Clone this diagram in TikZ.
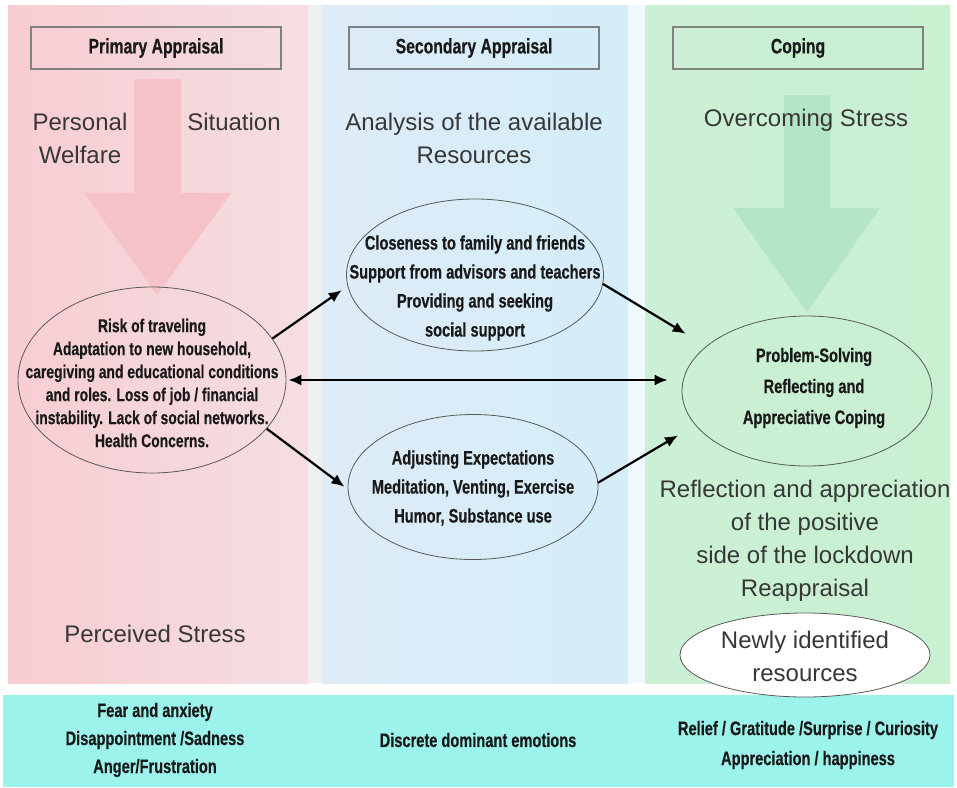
\documentclass[tikz,border=0pt]{standalone}
\usepackage{fontspec}
\setmainfont{Liberation Sans}
\newfontfamily\condfont[FakeStretch=0.75, FakeBold=0.4]{Liberation Sans Bold}
\usetikzlibrary{shapes.geometric, arrows.meta, positioning}
\definecolor{pinkleft}{RGB}{247,205,210}
\definecolor{pinkright}{RGB}{245,222,226}
\definecolor{blueleft}{RGB}{222,236,247}
\definecolor{blueright}{RGB}{212,237,249}
\definecolor{greenleft}{RGB}{204,240,213}
\definecolor{greenright}{RGB}{200,240,209}
\definecolor{bandcolor}{RGB}{155,243,236}
\definecolor{pinkarrow}{RGB}{245,194,199}
\definecolor{greenarrow}{RGB}{180,229,197}
\definecolor{framegray}{RGB}{128,128,128}
\definecolor{softtext}{RGB}{55,55,55}
\definecolor{darktext}{RGB}{25,25,25}
\tikzset{
  headbox/.style={draw=framegray, line width=2pt, minimum width=250pt, minimum height=42pt,
    inner sep=0pt, text=darktext, font=\condfont\fontsize{21}{24}\selectfont},
  thintext/.style={inner sep=0pt, align=center, text=softtext, font=\fontsize{24}{33}\selectfont},
  bubble/.style={ellipse, draw=black!65, line width=0.8pt, inner sep=0pt},
  boldtext/.style={inner sep=0pt, align=center, text=darktext, font=\condfont\fontsize{19.5}{29}\selectfont},
  link/.style={-{Latex[length=13pt,width=11pt]}, line width=2.2pt}
}

\begin{document}
\begin{tikzpicture}[x=1pt, y=-1pt]
    \useasboundingbox (0,0) rectangle (957,787);
    % columns
    \fill[white] (0,0) rectangle (957,787);
    \fill[black!6] (308,5) rectangle (322,683);
    \fill[cyan!6] (628,5) rectangle (645,683);
    \shade[left color=pinkleft, right color=pinkright] (8,5) rectangle (308,683);
    \shade[left color=blueleft, right color=blueright] (322,5) rectangle (628,683);
    \shade[left color=greenleft, right color=greenright] (645,5) rectangle (950,683);
    \fill[bandcolor] (3,695) rectangle (954,787);

    % big arrows
    \fill[pinkarrow] (134,79) -- (181,79) -- (181,193) -- (231,193) -- (157,295)
        -- (84,193) -- (134,193) -- cycle;
    \fill[greenarrow] (784,95) -- (830,95) -- (830,208) -- (880,208) -- (807,312)
        -- (733,208) -- (784,208) -- cycle;

    % headers
    \node[headbox] (primary) at (156,48) {Primary Appraisal};
    \node[headbox] (secondary) at (474,48) {Secondary Appraisal};
    \node[headbox] (coping) at (798,48) {Coping};

    \node[thintext] (welfare) at (80,138) {Personal\\Welfare};
    \node[thintext] (situation) at (234,122) {Situation};
    \node[thintext] (analysis) at (474,138) {Analysis of the available\\Resources};
    \node[thintext] (overcome) at (806,120) {Overcoming Stress};
    \node[thintext] (perceived) at (155,634) {Perceived Stress};
    \node[thintext] (reflect) at (805,541) {Reflection and appreciation\\of the positive\\side of the lockdown\\Reappraisal};

    % ellipses
    \node[bubble, minimum width=268pt, minimum height=186pt] (risk) at (152,380) {};
    \node[boldtext, font=\condfont\fontsize{18.5}{23}\selectfont] (risktext) at (152,383)
      {Risk of traveling\\Adaptation to new household,\\caregiving and educational conditions\\and roles. Loss of job / financial\\instability. Lack of social networks.\\Health Concerns.};
    \node[bubble, minimum width=257pt, minimum height=152pt] (res) at (475,275) {};
    \node[boldtext] (restext) at (475,288)
      {Closeness to family and friends\\Support from advisors and teachers\\Providing and seeking\\social support};
    \node[bubble, minimum width=250pt, minimum height=145pt] (adj) at (473,487) {};
    \node[boldtext] (adjtext) at (473,488)
      {Adjusting Expectations\\Meditation, Venting, Exercise\\Humor, Substance use};
    \node[bubble, minimum width=250pt, minimum height=150pt] (cope) at (807,391) {};
    \node[boldtext, font=\condfont\fontsize{19.5}{31}\selectfont] (copetext) at (814,388)
      {Problem-Solving\\Reflecting and\\Appreciative Coping};
    \node[bubble, fill=white, minimum width=250pt, minimum height=84pt] (newres) at (805,655) {};
    \node[thintext] (newrestext) at (805,656) {Newly identified\\resources};

    % emotions band
    \node[boldtext, font=\condfont\fontsize{19.5}{28}\selectfont] (negemo) at (155,740)
      {Fear and anxiety\\Disappointment /Sadness\\Anger/Frustration};
    \node[boldtext] (discrete) at (478,740) {Discrete dominant emotions};
    \node[boldtext, font=\condfont\fontsize{19.5}{30}\selectfont] (posemo) at (808,745)
      {Relief / Gratitude /Surprise / Curiosity\\Appreciation / happiness};

    % connectors
    \draw[link, shorten >=7pt] (risk.19) -- (res.185);
    \draw[link, shorten >=4pt] (risk.-23) -- (adj.181);
    \draw[link, shorten >=24pt] (res.-4) -- (cope.156);
    \draw[link, shorten >=20pt] (adj.2) -- (cope.197);
    \draw[link, {Latex[length=13pt,width=11pt]}-{Latex[length=13pt,width=11pt]}, shorten <=2pt, shorten >=14pt]
      (risk.east) -- (risk.east -| cope.west);
\end{tikzpicture}
\end{document}
